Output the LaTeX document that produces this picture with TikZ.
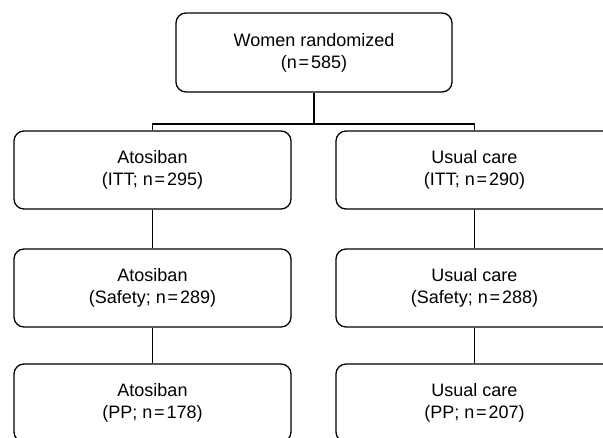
\documentclass[tikz,border=0pt]{standalone}
\usepackage{fontspec}
\setmainfont{Liberation Sans}
\newcommand{\myeq}{\kern1.8pt=\kern1.8pt}
\begin{document}
\begin{tikzpicture}[x=1pt,y=-1pt,
  flowbox/.style={draw=black, line width=1.3pt, rounded corners=10pt, rectangle,
    minimum width=277pt, minimum height=78pt, align=center, inner sep=0pt,
    font=\fontsize{18}{22}\selectfont},
  link/.style={draw=black, line width=1.6pt}]
\useasboundingbox (0,0) rectangle (603,438);
\clip (0,0) rectangle (603,438);
\node[flowbox, minimum width=276pt, minimum height=79pt] (top) at (314,52.5) {Women randomized\\(n\myeq585)};
\node[flowbox] (l1) at (152.5,170) {Atosiban\\(ITT; n\myeq295)};
\node[flowbox] (r1) at (474.5,170) {Usual care\\(ITT; n\myeq290)};
\node[flowbox] (l2) at (152.5,288) {Atosiban\\(Safety; n\myeq289)};
\node[flowbox] (r2) at (474.5,288) {Usual care\\(Safety; n\myeq288)};
\node[flowbox] (l3) at (152.5,403) {Atosiban\\(PP; n\myeq178)};
\node[flowbox] (r3) at (474.5,403) {Usual care\\(PP; n\myeq207)};
\coordinate (bar) at (313.5,124);
\draw[link] (top.south) -- (top.south |- bar);
\draw[link] (l1.north) -- (l1.north |- bar) -- (r1.north |- bar) -- (r1.north);
\draw[link] (l1.south) -- (l2.north);
\draw[link] (r1.south) -- (r2.north);
\draw[link] (l2.south) -- (l3.north);
\draw[link] (r2.south) -- (r3.north);
\end{tikzpicture}
\end{document}
